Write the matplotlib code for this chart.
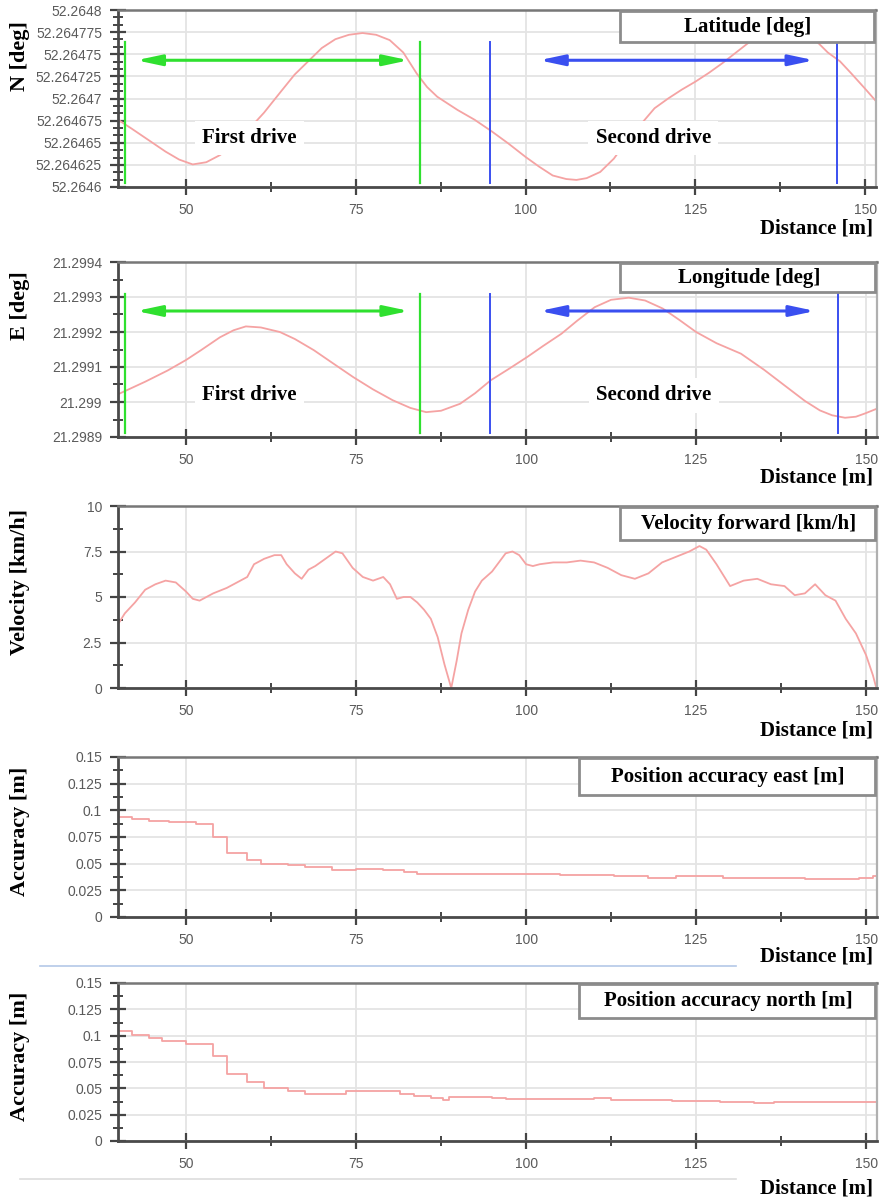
import numpy as np
import matplotlib
matplotlib.use("Agg")
import matplotlib.pyplot as plt
from matplotlib.ticker import FixedLocator, MultipleLocator, AutoMinorLocator, FuncFormatter
from matplotlib.patches import Rectangle
from matplotlib.lines import Line2D

# Distance axis shared by every panel
X_MIN, X_MAX = 40, 151.6

# Latitude along the track
lat_dist = [40.0, 42.0, 44.5, 47.0, 49.0, 51.0, 53.0, 55.0, 57.0, 59.0, 61.5, 64.0, 66.0,
            68.0, 70.0, 72.0, 74.0, 76.0, 78.0, 80.0, 82.0, 84.0, 85.5, 87.0, 90.0, 92.5,
            95.0, 97.5, 100.0, 102.0, 104.0, 106.0, 107.5, 109.0, 111.0, 113.0, 115.0,
            117.0, 119.0, 121.0, 123.0, 125.0, 127.0, 129.0, 131.0, 133.0, 135.0, 137.0,
            139.0, 141.0, 142.8, 144.5, 146.3, 148.0, 150.0, 151.6]
lat_val = [52.264676, 52.264666, 52.264653, 52.264640, 52.264631, 52.2646255, 52.264628,
           52.264636, 52.264647, 52.264663, 52.264684, 52.264708, 52.264727, 52.264742,
           52.264757, 52.264767, 52.264772, 52.264774, 52.264772, 52.264766, 52.264752,
           52.264728, 52.264713, 52.264702, 52.264687, 52.264676, 52.264663, 52.264649,
           52.264634, 52.264623, 52.264613, 52.264609, 52.264608, 52.264610, 52.264617,
           52.264632, 52.264653, 52.264671, 52.264689, 52.264700, 52.264710, 52.264719,
           52.264729, 52.264740, 52.264752, 52.264764, 52.264774, 52.264779, 52.264779,
           52.264774, 52.264765, 52.264752, 52.264742, 52.264728, 52.264711, 52.264697]
lat_ticks = [52.2646, 52.264625, 52.26465, 52.264675, 52.2647, 52.264725, 52.26475,
             52.264775, 52.2648]

# Longitude along the track
lon_dist = [40.0, 42.0, 44.0, 47.3, 50.0, 52.2, 55.0, 57.0, 58.8, 61.0, 63.8, 66.0, 68.8,
            71.5, 74.6, 77.5, 80.4, 83.0, 85.3, 87.5, 90.3, 92.5, 94.8, 97.5, 100.2, 102.5,
            105.2, 107.5, 110.1, 112.5, 115.1, 117.5, 120.1, 122.5, 125.0, 128.0, 131.6,
            135.0, 138.3, 141.0, 143.2, 145.0, 146.9, 148.5, 149.8, 151.6]
lon_val = [21.299022, 21.299040, 21.299058, 21.299090, 21.299120, 21.299148, 21.299185,
           21.299205, 21.299216, 21.299213, 21.299200, 21.299180, 21.299148, 21.299112,
           21.299071, 21.299036, 21.299005, 21.298983, 21.298971, 21.298975, 21.298995,
           21.299025, 21.299062, 21.299095, 21.299129, 21.299160, 21.299195, 21.299232,
           21.299271, 21.299292, 21.299298, 21.299290, 21.299267, 21.299235, 21.299200,
           21.299168, 21.299138, 21.299092, 21.299043, 21.299003, 21.298976, 21.298962,
           21.298955, 21.298958, 21.298967, 21.298981]
lon_ticks = [21.2989, 21.299, 21.2991, 21.2992, 21.2993, 21.2994]

# Forward velocity [km/h]
vel_dist = [40.0, 41.0, 42.5, 44.0, 45.5, 47.0, 48.5, 50.0, 51.0, 52.0, 54.0, 56.0, 58.0,
            59.0, 60.0, 61.5, 63.0, 64.0, 64.8, 66.0, 67.0, 68.0, 69.0, 70.5, 72.0, 73.0,
            74.5, 76.0, 77.5, 79.0, 80.0, 81.0, 82.0, 83.0, 84.0, 85.0, 86.0, 87.0, 88.0,
            89.0, 89.8, 90.5, 91.5, 92.5, 93.5, 95.0, 96.0, 97.0, 98.0, 99.0, 100.0, 101.0,
            102.0, 104.0, 106.0, 108.0, 110.0, 112.0, 114.0, 116.0, 118.0, 120.0, 122.0,
            124.0, 125.5, 126.5, 128.0, 130.0, 132.0, 134.0, 136.0, 138.0, 139.5, 141.0,
            142.5, 144.0, 145.5, 147.0, 148.5, 150.0, 151.0, 151.5]
vel_val = [3.5, 4.1, 4.7, 5.4, 5.7, 5.9, 5.8, 5.3, 4.9, 4.8, 5.2, 5.5, 5.9, 6.1, 6.8, 7.1,
           7.3, 7.3, 6.8, 6.3, 6.0, 6.5, 6.7, 7.1, 7.5, 7.4, 6.6, 6.1, 5.9, 6.1, 5.7, 4.9,
           5.0, 5.0, 4.7, 4.3, 3.8, 2.8, 1.3, 0.0, 1.5, 3.0, 4.3, 5.3, 5.9, 6.4, 6.9, 7.4,
           7.5, 7.3, 6.8, 6.7, 6.8, 6.9, 6.9, 7.0, 6.9, 6.6, 6.2, 6.0, 6.3, 6.9, 7.2, 7.5,
           7.8, 7.6, 6.8, 5.6, 5.9, 6.0, 5.7, 5.6, 5.1, 5.2, 5.7, 5.1, 4.8, 3.8, 3.0, 1.8,
           0.7, 0.0]

# Position accuracy east [m] (stepped)
acc_e_dist = [40.0, 42.0, 44.5, 47.5, 51.5, 54.0, 56.0, 59.0, 61.0, 65.0, 67.5, 71.5, 75.0,
              79.0, 82.0, 84.0, 105.0, 113.0, 118.0, 122.0, 129.0, 141.0, 149.0, 151.0, 151.6]
acc_e_val = [0.094, 0.092, 0.090, 0.089, 0.087, 0.075, 0.060, 0.053, 0.050, 0.049, 0.047,
             0.044, 0.045, 0.044, 0.042, 0.040, 0.039, 0.038, 0.037, 0.038, 0.037, 0.036,
             0.037, 0.038, 0.038]

# Position accuracy north [m] (stepped)
acc_n_dist = [40.0, 42.0, 44.5, 46.5, 50.0, 54.0, 56.0, 59.0, 61.5, 65.0, 67.5, 73.5, 81.5,
              83.5, 86.0, 87.8, 88.7, 95.0, 97.0, 110.0, 112.5, 121.5, 128.5, 133.5, 136.5,
              151.6]
acc_n_val = [0.104, 0.101, 0.098, 0.095, 0.092, 0.081, 0.064, 0.056, 0.050, 0.047, 0.045,
             0.047, 0.045, 0.043, 0.041, 0.039, 0.042, 0.041, 0.040, 0.041, 0.039, 0.038,
             0.037, 0.036, 0.037, 0.037]
acc_ticks = [0, 0.025, 0.05, 0.075, 0.1, 0.125, 0.15]

# Drive segments: start/end markers and arrow spans
first_drive = (41.0, 84.4)
second_drive = (94.7, 145.9)
first_arrow = (42.7, 82.8)
second_arrow = (102.0, 142.5)

CURVE = "#f5a3a3"
GREEN = "#2fe02f"
BLUE = "#3a4ff0"
SERIF = ["Liberation Serif", "DejaVu Serif"]

W, H = 882, 1199
fig = plt.figure(figsize=(W / 100, H / 100), dpi=100)


def px_axes(top, bottom, left=118, right=877):
    return fig.add_axes([left / W, 1 - bottom / H, (right - left) / W, (bottom - top) / H])


def style_axes(ax, ylim, yticks=None, ymajor=None, yminor_n=2, fmt="{:g}"):
    ax.set_xlim(X_MIN, X_MAX)
    ax.set_ylim(*ylim)
    ax.xaxis.set_major_locator(FixedLocator([50, 75, 100, 125, 150]))
    ax.xaxis.set_minor_locator(FixedLocator([62.5, 87.5, 112.5, 137.5]))
    if yticks is not None:
        ax.yaxis.set_major_locator(FixedLocator(yticks))
    else:
        ax.yaxis.set_major_locator(MultipleLocator(ymajor))
    ax.yaxis.set_minor_locator(AutoMinorLocator(yminor_n))
    ax.yaxis.set_major_formatter(FuncFormatter(lambda v, p: fmt.format(v)))
    ax.grid(True, which="major", color="#e4e4e4", lw=1.3)
    ax.set_axisbelow(True)
    ax.tick_params(which="major", direction="inout", length=11, width=1.6, color="#444444",
                   labelsize=10, labelcolor="#5a5a5a", pad=6)
    ax.tick_params(which="minor", direction="inout", length=7, width=1.4, color="#444444")
    ax.tick_params(axis="y", which="both", right=False)
    ax.tick_params(axis="x", which="both", top=False)
    for side in ["left", "bottom"]:
        ax.spines[side].set_color("#4a4a4a")
        ax.spines[side].set_linewidth(2.0)
    ax.spines["top"].set_color("#777777")
    ax.spines["top"].set_linewidth(1.8)
    ax.spines["right"].set_color("#b0b0b0")
    ax.spines["right"].set_linewidth(1.6)
    for lbl in ax.get_xticklabels() + ax.get_yticklabels():
        lbl.set_family(["Liberation Sans", "DejaVu Sans"])


def title_box(ax, text, x0, y0):
    ax.add_patch(Rectangle((x0, y0), 1 - x0 - 0.002, 1 - y0 - 0.006, transform=ax.transAxes,
                           facecolor="white", edgecolor="#8c8c8c", lw=2.0, zorder=5,
                           clip_on=False))
    ax.text(x0 + (1 - x0) / 2, y0 + (1 - y0) / 2 - 0.004, text, transform=ax.transAxes,
            ha="center", va="center", fontsize=15, fontweight="bold", family=SERIF, zorder=6)


def drive_marks(ax, y_lo, y_hi, y_arrow, y_text):
    for xs, color, lw in [(first_drive, GREEN, 1.6), (second_drive, BLUE, 1.4)]:
        for x in xs:
            ax.plot([x, x], [y_lo, y_hi], color=color, lw=lw, zorder=3)
    for (xa, xb), color in [(first_arrow, GREEN), (second_arrow, BLUE)]:
        ax.annotate("", xy=(xb, y_arrow), xytext=(xa, y_arrow),
                    arrowprops=dict(arrowstyle="<|-|>,head_length=1.5,head_width=0.32",
                                    color=color, lw=2.2, mutation_scale=10,
                                    shrinkA=0, shrinkB=0), zorder=3)
    for label, x in [("First drive", 59.3), ("Second drive", 118.8)]:
        ax.text(x, y_text, label, ha="center", va="center", fontsize=15, fontweight="bold",
                family=SERIF, zorder=4,
                bbox=dict(boxstyle="square,pad=0.35", facecolor="white", edgecolor="none"))


def side_labels(ylabel, y_center, xlabel_y):
    fig.text(20 / W, 1 - y_center / H, ylabel, rotation=90, ha="center", va="center",
             fontsize=16, fontweight="bold", family=SERIF)
    fig.text(873 / W, 1 - xlabel_y / H, "Distance [m]", ha="right", va="center",
             fontsize=15, fontweight="bold", family=SERIF)


# Latitude
ax1 = px_axes(10, 187, right=876)
ax1.plot(lat_dist, lat_val, color=CURVE, lw=1.3, zorder=2)
style_axes(ax1, (52.2646, 52.2648), yticks=lat_ticks, yminor_n=3, fmt="{:.9g}")
drive_marks(ax1, 52.264605, 52.264764, 52.2647432, 52.2646553)
title_box(ax1, "Latitude [deg]", 0.662, 0.821)
side_labels("N [deg]", 56, 229)

# Longitude
ax2 = px_axes(262, 437)
ax2.plot(lon_dist, lon_val, color=CURVE, lw=1.3, zorder=2)
style_axes(ax2, (21.2989, 21.2994), yticks=lon_ticks, yminor_n=2, fmt="{:.7g}")
drive_marks(ax2, 21.298912, 21.299310, 21.29926, 21.299019)
title_box(ax2, "Longitude [deg]", 0.662, 0.829)
side_labels("E [deg]", 306, 478)

# Forward velocity
ax3 = px_axes(506, 688)
ax3.plot(vel_dist, vel_val, color=CURVE, lw=1.3, zorder=2)
style_axes(ax3, (0, 10), ymajor=2.5, yminor_n=2)
title_box(ax3, "Velocity forward [km/h]", 0.661, 0.813)
side_labels("Velocity [km/h]", 582, 731)

# Position accuracy east
ax4 = px_axes(757, 917)
ax4.plot(acc_e_dist, acc_e_val, color=CURVE, lw=1.3, drawstyle="steps-post", zorder=2)
style_axes(ax4, (0, 0.15), yticks=acc_ticks, yminor_n=2)
title_box(ax4, "Position accuracy east [m]", 0.608, 0.7625)
side_labels("Accuracy [m]", 831, 956)

# Position accuracy north
ax5 = px_axes(983, 1141)
ax5.plot(acc_n_dist, acc_n_val, color=CURVE, lw=1.3, drawstyle="steps-post", zorder=2)
style_axes(ax5, (0, 0.15), yticks=acc_ticks, yminor_n=2)
title_box(ax5, "Position accuracy north [m]", 0.608, 0.778)
side_labels("Accuracy [m]", 1056, 1188)

# thin separator strokes between the lower panels
fig.add_artist(Line2D([40 / W, 736 / W], [1 - 966 / H, 1 - 966 / H], color="#b4c8e8", lw=1.2))
fig.add_artist(Line2D([20 / W, 736 / W], [1 - 1179 / H, 1 - 1179 / H], color="#dddddd", lw=1.2))

fig.savefig("out.png", dpi=100)
